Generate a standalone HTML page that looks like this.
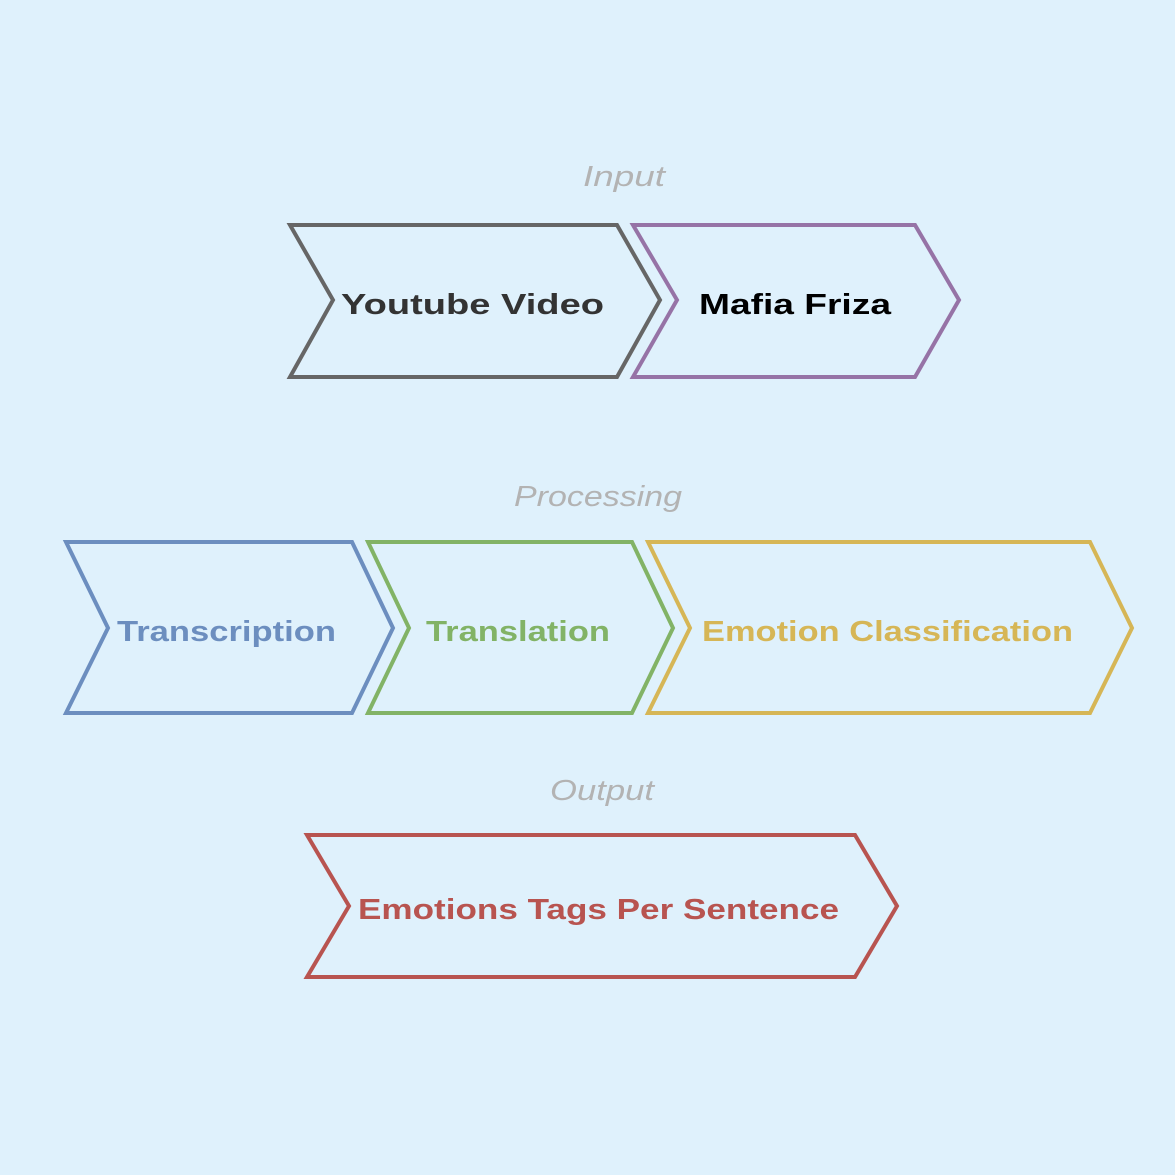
<!DOCTYPE html>
<html><head><meta charset="utf-8"><style>
html,body{margin:0;padding:0;background:#dff1fc;}
svg{display:block;}
text{font-family:"Liberation Sans",Arial,sans-serif;}
.b{font-weight:bold;font-size:29px;}
.l{font-style:italic;font-size:29px;fill:#b3b3b3;}
polygon{fill:#dff1fc;stroke-width:4;stroke-linejoin:miter;}
</style></head><body>
<svg width="1175" height="1175" viewBox="0 0 1175 1175" xmlns="http://www.w3.org/2000/svg">
<rect width="1175" height="1175" fill="#dff1fc"/>
<text class="l" x="583" y="186" textLength="82" lengthAdjust="spacingAndGlyphs">Input</text>
<text class="l" x="514" y="506" textLength="168" lengthAdjust="spacingAndGlyphs">Processing</text>
<text class="l" x="550" y="800" textLength="104" lengthAdjust="spacingAndGlyphs">Output</text>

<polygon points="290,225 617,225 660,300 617,377 290,377 333,300" stroke="#666666"/>
<polygon points="633,225 915,225 959,300 915,377 633,377 677,300" stroke="#9673a6"/>
<text class="b" x="341" y="314" fill="#333333" textLength="263" lengthAdjust="spacingAndGlyphs">Youtube Video</text>
<text class="b" x="699" y="314" fill="#000000" textLength="192" lengthAdjust="spacingAndGlyphs">Mafia Friza</text>

<polygon points="66,542 352,542 393,628 352,713 66,713 108,628" stroke="#6c8ebf"/>
<polygon points="368,542 632,542 673,628 632,713 368,713 409,628" stroke="#82b366"/>
<polygon points="648,542 1090,542 1132,628 1090,713 648,713 690,628" stroke="#d6b656"/>
<text class="b" x="117" y="641" fill="#6c8ebf" textLength="219" lengthAdjust="spacingAndGlyphs">Transcription</text>
<text class="b" x="426" y="641" fill="#82b366" textLength="184" lengthAdjust="spacingAndGlyphs">Translation</text>
<text class="b" x="702" y="641" fill="#d6b656" textLength="371" lengthAdjust="spacingAndGlyphs">Emotion Classification</text>

<polygon points="307,835 855,835 897,906 855,977 307,977 349,906" stroke="#b85450"/>
<text class="b" x="358" y="919" fill="#b85450" textLength="481" lengthAdjust="spacingAndGlyphs">Emotions Tags Per Sentence</text>
</svg>
</body></html>
